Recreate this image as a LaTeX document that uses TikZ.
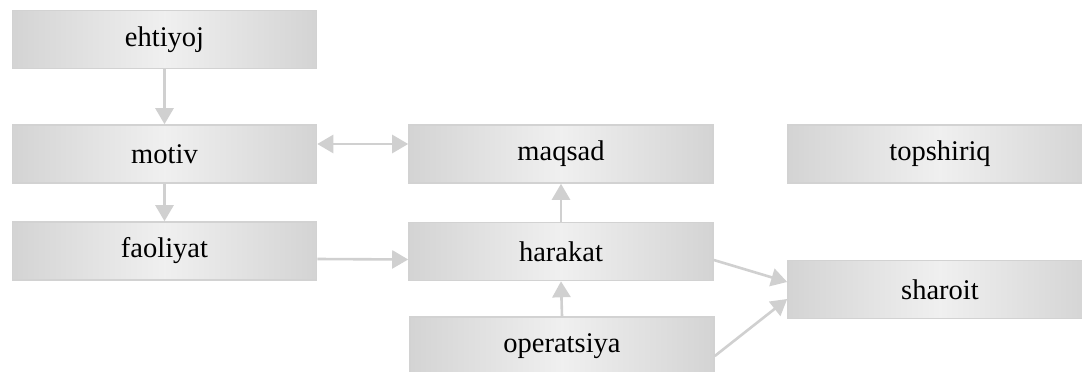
\documentclass[tikz,border=0pt]{standalone}
\usepackage{fontspec}
\setmainfont{Liberation Serif}
\usetikzlibrary{arrows.meta,calc}
\definecolor{edgegray}{HTML}{D2D2D2}
\definecolor{arrowgray}{HTML}{D0D0D0}
\begin{document}
\begin{tikzpicture}[x=1pt,y=-1pt,
  box/.style={draw=edgegray, line width=1.6pt, minimum width=304pt, minimum height=58pt,
    inner sep=0pt, shading angle=30, left color=black!17, right color=black!17, middle color=black!6,
    font=\fontsize{28.5}{32}\selectfont, text=black},
  tip/.style={Triangle[length=16pt,width=18pt]},
  conn/.style={draw=arrowgray, line width=2.6pt, -{Triangle[length=16pt,width=18pt]}},
  conn2/.style={draw=arrowgray, line width=2.6pt, {Triangle[length=16pt,width=18pt]}-{Triangle[length=16pt,width=18pt]}}]
\useasboundingbox (0,0) rectangle (1082,372);
\clip (0,0) rectangle (1082,372);
\fill[white] (0,0) rectangle (1082,372);
\node[box] (ehtiyoj) at (164.5,39.5) {ehtiyoj};
\node[box] (motiv) at (164.5,154) {motiv};
\node[box] (maqsad) at (561,154) {maqsad};
\node[box] (topshiriq) at (940,154) {topshiriq};
\node[box] (faoliyat) at (164.5,251) {faoliyat};
\node[box] (harakat) at (561,251.5) {harakat};
\node[box] (sharoit) at (940,289.5) {sharoit};
\node[box] (operatsiya) at (562,346) {operatsiya};
\draw[conn] (ehtiyoj.south) -- (motiv.north);
\draw[conn] (motiv.south) -- (faoliyat.north);
\draw[conn2] ([yshift=10pt]motiv.east) -- ([yshift=10pt]maqsad.west);
\draw[conn] ([yshift=-8pt]faoliyat.east) -- ([yshift=-8pt]harakat.west);
\draw[conn] (harakat.north) -- (maqsad.south);
\draw[conn] (operatsiya.north) -- (harakat.south);
\draw[conn] ([yshift=-8.5pt]harakat.east) -- ([yshift=7.5pt]sharoit.west);
\draw[conn] ([yshift=-10pt]operatsiya.east) -- ([yshift=-9.5pt]sharoit.west);
\end{tikzpicture}
\end{document}
